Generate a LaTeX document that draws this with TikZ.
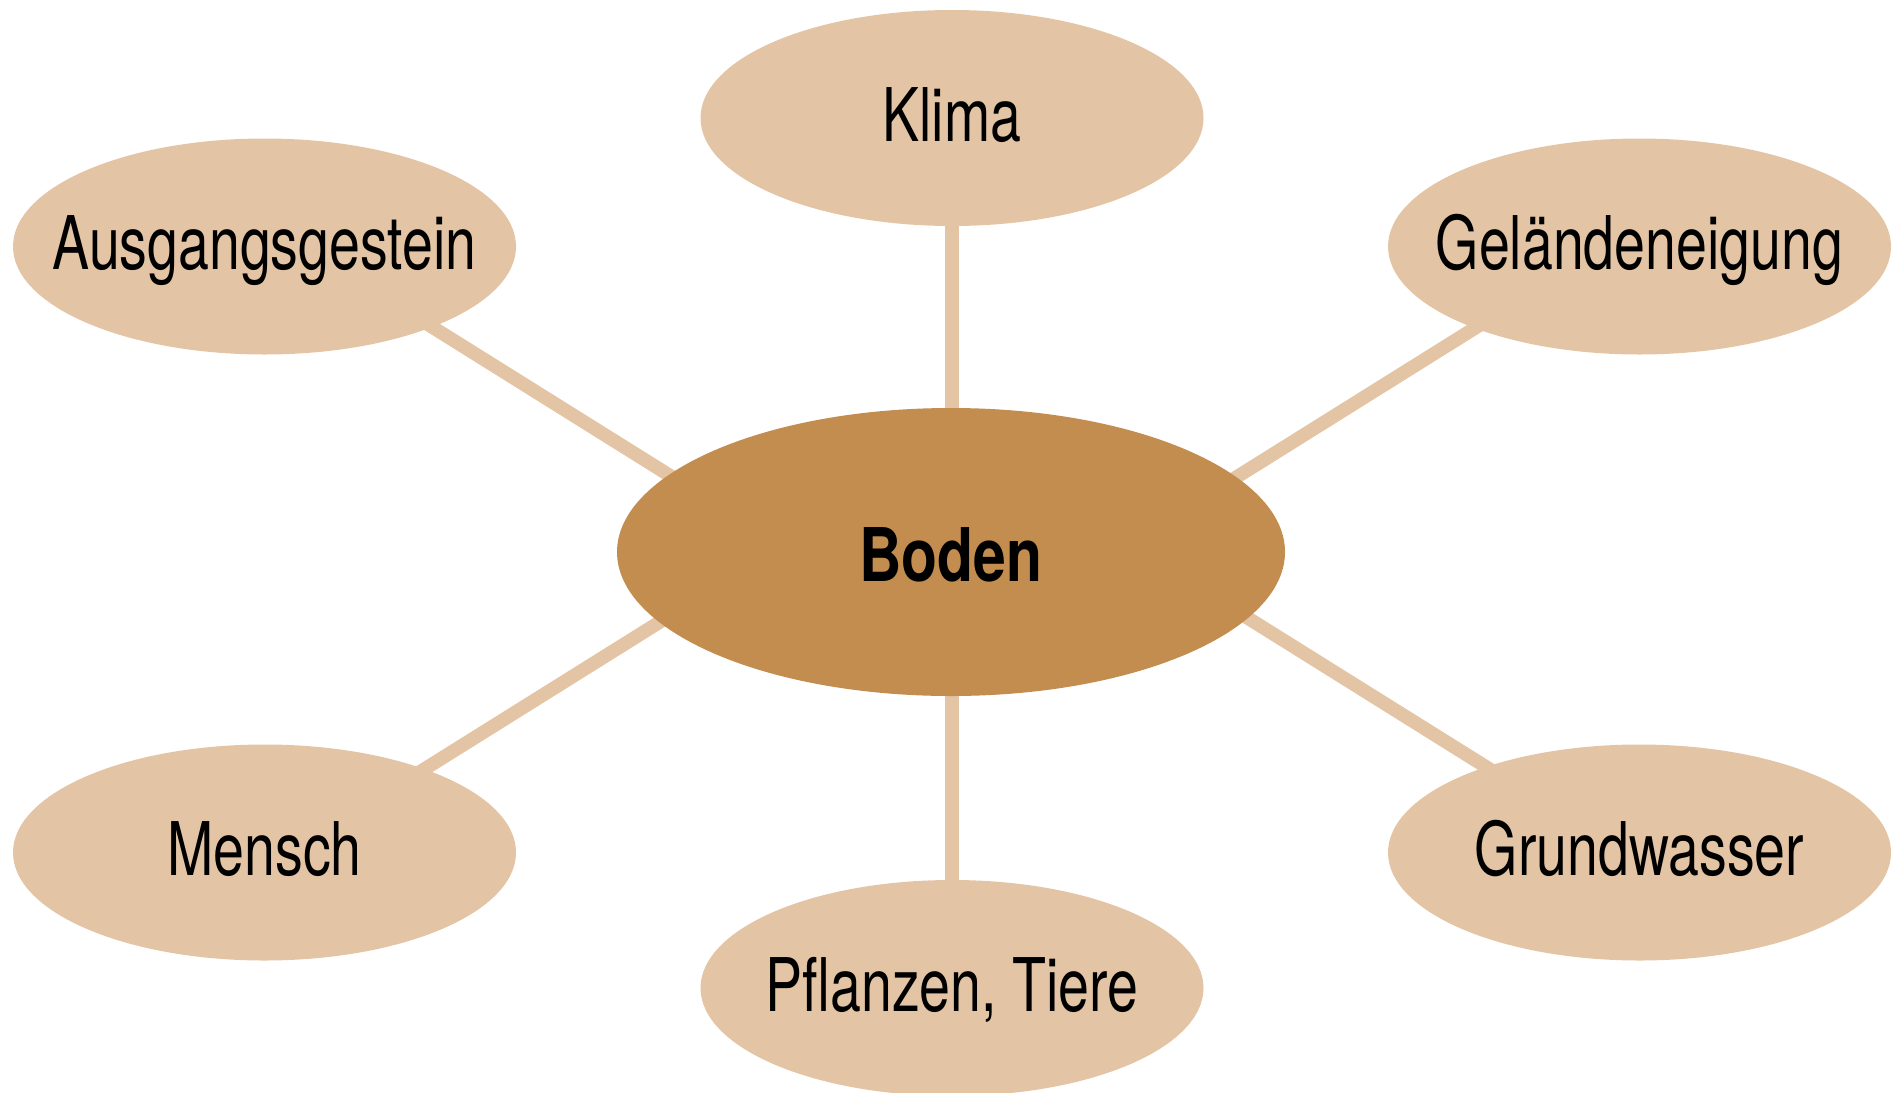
\documentclass[tikz,border=0pt]{standalone}
\usepackage{fontspec}
\setmainfont{TeX Gyre Heros}[FakeStretch=0.75]
\newfontfamily\bodenfont{TeX Gyre Heros}[FakeStretch=0.795]
\usetikzlibrary{shapes.geometric,calc,backgrounds}
\definecolor{lighttan}{RGB}{227,196,164}
\definecolor{darktan}{RGB}{194,141,79}
\tikzset{
  outertext/.style={inner sep=0pt, font=\fontsize{74}{80}\selectfont, text height=46.5pt, text depth=0pt},
  outer/.style={ellipse, fill=lighttan, draw=none, inner sep=0pt,
    minimum width=503pt, minimum height=216pt,
    label={[outertext]center:#1}},
  center/.style={ellipse, fill=darktan, draw=none, inner sep=0pt,
    minimum width=668pt, minimum height=288pt,
    label={[inner sep=0pt, font=\bodenfont\bfseries\fontsize{74}{80}\selectfont, text height=58pt, text depth=0pt]center:#1}},
  conn/.style={draw=lighttan, line width=13.5pt}
}
\begin{document}
\begin{tikzpicture}[x=1pt,y=-1pt]
\useasboundingbox (0,0) rectangle (1894,1092);
\node[center=Boden] (bod) at (951,552) {};
\node[outer=Klima] (kli) at (952,118) {};
\node[outer=Ausgangsgestein] (aus) at (264.5,246.5) {};
\node[outer=Geländeneigung] (gel) at (1639.5,246.5) {};
\node[outer=Mensch] (men) at (264.5,852.5) {};
\node[outer=Grundwasser] (gru) at (1639.5,852.5) {};
\node[outer={Pflanzen, Tiere}] (pfl) at (952,988) {};
\begin{pgfonlayer}{background}
\draw[conn] (kli.center) -- (kli.center |- bod.center);
\draw[conn] (pfl.center) -- (pfl.center |- bod.center);
\draw[conn] ($(aus)+(135.5,60.4)$) -- ($(bod)+(-231,-45.1)$);
\draw[conn] ($(gel)+(-139.5,65.9)$) -- ($(bod)+(229,-39.6)$);
\draw[conn] ($(men)+(125.5,-61.9)$) -- ($(bod)+(-241,38.6)$);
\draw[conn] ($(gru)+(-119.5,-64.4)$) -- ($(bod)+(239,29.9)$);
\end{pgfonlayer}
\end{tikzpicture}
\end{document}
